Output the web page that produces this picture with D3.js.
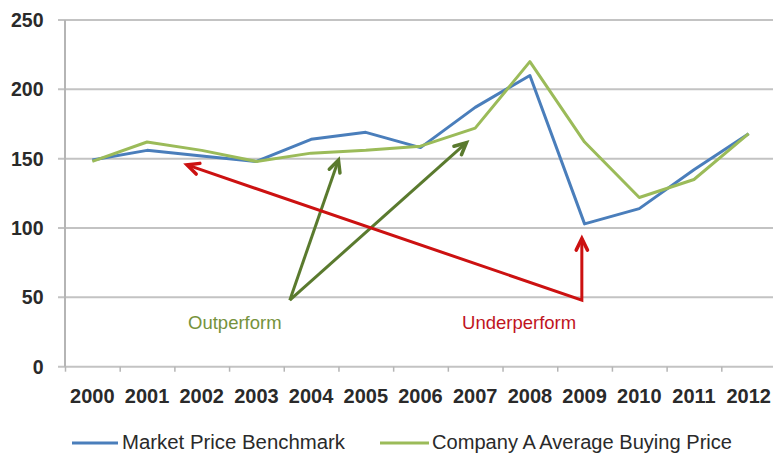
<!DOCTYPE html>
<html><head><meta charset="utf-8">
<script src="https://cdn.jsdelivr.net/npm/d3@7/dist/d3.min.js"></script>
<style>html,body{margin:0;padding:0;background:#fff;overflow:hidden}</style>
</head><body>
<svg id="c" width="773" height="455"></svg>
<script>
const years = [2000,2001,2002,2003,2004,2005,2006,2007,2008,2009,2010,2011,2012];
const marketPrice = [149,156,152,148,164,169,158,187,210,103,114,142,168];
const companyPrice = [148,162,156,148,154,156,159,172,220,162,122,135,168];
const yTicks = [0,50,100,150,200,250];
const seriesNames = ["Market Price Benchmark","Company A Average Buying Price"];
// annotation anchors in data units (fractional year, value)
const redArrow = [[2001.73,145.5],[2008.95,48],[2008.95,92.5]];
const greenArrows = [[[2003.61,48],[2004.5,149]],[[2003.61,48],[2006.84,161.5]]];
const notes = [{text:"Outperform", x:2001.75, y:27.5},{text:"Underperform", x:2006.76, y:27.5}];

(function(){
const svg = d3.select("#c");
const pLeft = 65, pRight = 776, pTop = 20, pBottom = 366.7;
const x = d3.scaleBand().domain(years).range([pLeft,pRight]).padding(0);
const xl = d3.scaleLinear().domain([1999.5,2012.5]).range([pLeft,pRight]);
const y = d3.scaleLinear().domain([0,250]).range([pBottom,pTop]);
const font = "'Liberation Sans', Arial, sans-serif";

svg.append("g").selectAll("line").data(yTicks).join("line")
  .attr("x1",58).attr("x2",773).attr("y1",d=>y(d)).attr("y2",d=>y(d))
  .attr("stroke","#c3c3c3").attr("stroke-width",2);
svg.append("line").attr("x1",pLeft).attr("x2",pLeft).attr("y1",pTop).attr("y2",pBottom)
  .attr("stroke","#b5b5b5").attr("stroke-width",2);
svg.append("g").selectAll("text").data(yTicks).join("text")
  .attr("x",43.5).attr("y",d=>y(d)+7).attr("text-anchor","end")
  .attr("font-family",font).attr("font-size",19.5).attr("font-weight","bold")
  .attr("fill","#2a2a2a").text(d=>d);
const edges = d3.range(1999.5,2013,1);
const xAxis = svg.append("g").attr("transform",`translate(0,${pBottom})`)
  .call(d3.axisBottom(xl).tickValues(edges).tickFormat("").tickSize(5).tickSizeOuter(0));
xAxis.select(".domain").remove();
xAxis.selectAll("line").attr("stroke","#b5b5b5").attr("stroke-width",1.5);
const xLab = svg.append("g").attr("transform",`translate(0,${pBottom})`)
  .call(d3.axisBottom(x).tickSize(0).tickPadding(0));
xLab.select(".domain").remove();
xLab.selectAll("text").attr("y",36.5).attr("dy",0)
  .attr("font-family",font).attr("font-size",20).attr("font-weight","bold").attr("fill","#2a2a2a");

const cx = d => x(d) + x.bandwidth()/2;
const line = d3.line().x((d,i)=>cx(years[i])).y(d=>y(d));
svg.append("path").datum(marketPrice).attr("d",line).attr("fill","none")
  .attr("stroke","#4a7ebb").attr("stroke-width",3).attr("stroke-linejoin","round");
svg.append("path").datum(companyPrice).attr("d",line).attr("fill","none")
  .attr("stroke","#9bbb59").attr("stroke-width",3).attr("stroke-linejoin","round");

function arrowHead(p, from, color){
  const [px,py]=[xl(p[0]),y(p[1])],[fx,fy]=[xl(from[0]),y(from[1])];
  const a=Math.atan2(py-fy,px-fx), L=13, w=0.45;
  const pts=[[px-L*Math.cos(a-w),py-L*Math.sin(a-w)],[px,py],[px-L*Math.cos(a+w),py-L*Math.sin(a+w)]];
  svg.append("path").attr("d",d3.line()(pts)).attr("fill","none").attr("stroke",color)
    .attr("stroke-width",3.5).attr("stroke-linejoin","miter").attr("stroke-linecap","round");
}
const al = d3.line().x(d=>xl(d[0])).y(d=>y(d[1]));
const red="#cc1111", dgreen="#5a7a2e";
greenArrows.forEach(a=>{
  svg.append("path").attr("d",al(a)).attr("fill","none").attr("stroke",dgreen).attr("stroke-width",3);
  arrowHead(a[1],a[0],dgreen);
});
svg.append("path").attr("d",al(redArrow)).attr("fill","none").attr("stroke",red).attr("stroke-width",3).attr("stroke-linejoin","miter");
arrowHead(redArrow[0],redArrow[1],red);
arrowHead(redArrow[2],redArrow[1],red);

svg.append("g").selectAll("text").data(notes).join("text")
  .attr("x",d=>xl(d.x)).attr("y",d=>y(d.y))
  .attr("font-family",font).attr("font-size",18.5)
  .attr("fill",(d,i)=>i===0?"#76923c":"#c0141e").text(d=>d.text);

const leg = [{x1:72,x2:118,tx:122,w:223,c:"#4a7ebb"},{x1:380,x2:429,tx:432,w:300,c:"#9bbb59"}];
leg.forEach((l,i)=>{
  svg.append("line").attr("x1",l.x1).attr("x2",l.x2).attr("y1",443).attr("y2",443)
    .attr("stroke",l.c).attr("stroke-width",3);
  svg.append("text").attr("x",l.tx).attr("y",449).attr("font-family",font).attr("font-size",20)
    .attr("fill","#2a2a2a").attr("textLength",l.w).attr("lengthAdjust","spacingAndGlyphs")
    .text(seriesNames[i]);
});
})();
</script>
</body></html>
